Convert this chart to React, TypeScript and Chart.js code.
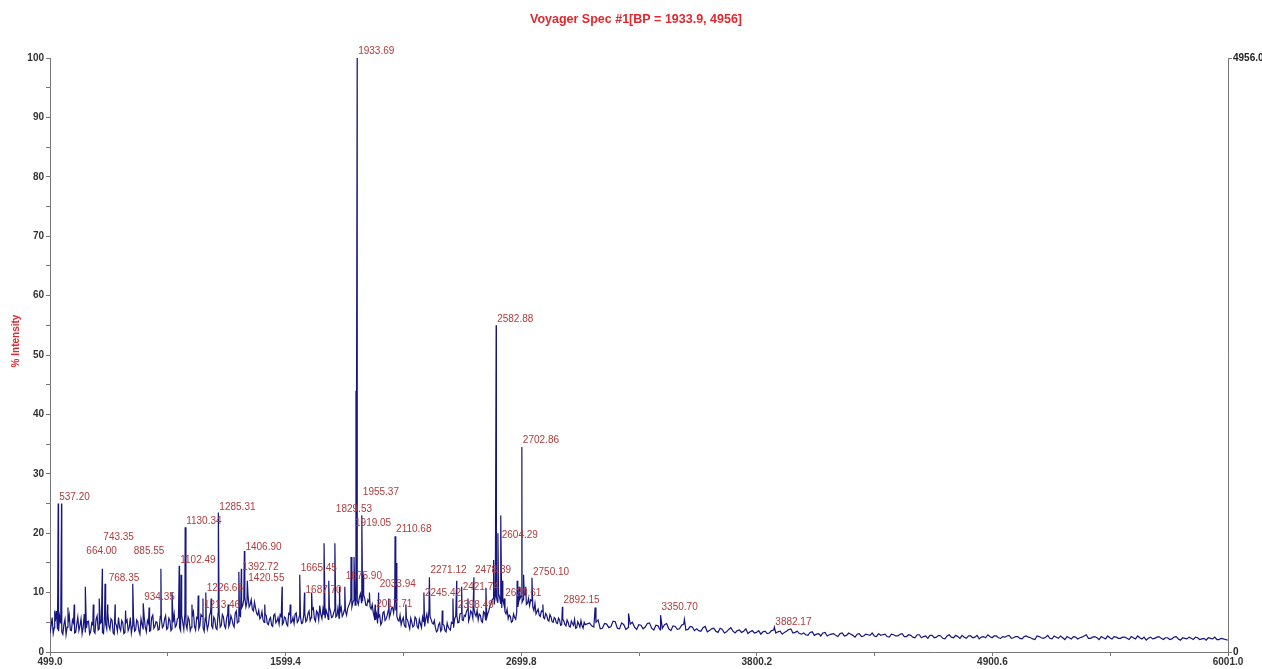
import { useEffect, useRef } from 'react';
import { Chart, registerables } from 'chart.js';

Chart.register(...registerables);

const chartTitle = 'Voyager Spec #1[BP = 1933.9, 4956]';
const yAxisTitle = '% Intensity';
const xMin = 499.0;
const xMax = 6001.0;
const xTickValues = [499.0, 1049.2, 1599.4, 2149.6, 2699.8, 3250.0, 3800.2, 4350.4, 4900.6, 5450.8, 6001.0];
const xTickLabels = ['499.0', '', '1599.4', '', '2699.8', '', '3800.2', '', '4900.6', '', '6001.0'];
const yTickValues = [0, 5, 10, 15, 20, 25, 30, 35, 40, 45, 50, 55, 60, 65, 70, 75, 80, 85, 90, 95, 100];
const yTickLabels = ['0', '', '10', '', '20', '', '30', '', '40', '', '50', '', '60', '', '70', '', '80', '', '90', '', '100'];
const rightTickValues = [0, 100];
const rightTickLabels = ['0', '4956.0'];

// noisy baseline, low-mass region (m/z 499 .. 2999, every 10)
const baselineLowStart = 499;
const baselineLowStep = 10;
const baselineLow = [
  3.2, 5.8, 4.1, 6.9, 3.5, 4.8, 3.0, 5.5, 4.2, 6.2, 3.6, 4.9, 3.3, 5.9, 4.4, 3.1, 6.4, 4.0, 5.2, 3.4,
  4.6, 3.2, 6.1, 3.9, 5.0, 3.1, 4.7, 6.6, 3.8, 5.3, 3.0, 4.5, 5.8, 3.6, 4.9, 3.3, 5.4, 4.1, 3.2, 6.0,
  3.7, 5.1, 3.0, 4.6, 5.9, 3.4, 4.8, 3.6, 6.2, 4.3, 5.0, 3.8, 5.6, 4.4, 6.1, 4.0, 5.3, 3.9, 6.4, 4.5,
  5.8, 3.6, 5.0, 6.5, 3.9, 5.4, 4.2, 6.8, 3.7, 5.6, 4.4, 6.0, 3.5, 5.2, 4.6, 6.7, 4.0, 5.5, 3.8, 6.3,
  4.5, 5.9, 4.0, 6.4, 4.8, 5.5, 4.2, 6.9, 5.1, 6.0, 7.8, 9.2, 8.4, 7.6, 8.8, 6.9, 7.4, 6.2, 5.6, 6.8,
  5.0, 6.1, 4.6, 5.8, 4.3, 6.4, 5.2, 4.7, 6.0, 4.9, 5.7, 4.4, 6.3, 5.1, 4.8, 6.6, 5.3, 5.9, 4.9, 6.5,
  5.4, 6.9, 5.8, 7.4, 5.2, 6.6, 7.8, 5.6, 6.2, 7.0, 5.5, 6.8, 5.9, 7.2, 6.1, 5.7, 7.5, 6.4, 6.9, 7.3,
  8.2, 7.6, 8.8, 9.5, 8.0, 9.8, 8.6, 9.0, 7.8, 8.4, 7.2, 6.6, 5.4, 4.8, 6.2, 5.0, 6.8, 5.6, 7.0, 6.4,
  7.5, 8.2, 6.0, 5.2, 4.6, 5.8, 4.2, 5.4, 3.9, 5.0, 4.4, 5.6, 4.0, 4.8, 5.9, 4.3, 6.4, 7.0, 5.5, 4.7,
  4.1, 3.6, 4.9, 3.8, 4.5, 3.4, 4.2, 3.7, 4.8, 5.6, 6.2, 5.0, 6.5, 5.3, 6.0, 7.2, 5.8, 6.6, 7.4, 6.0,
  5.4, 6.2, 5.0, 6.6, 5.8, 7.0, 8.2, 9.0, 9.6, 8.4, 9.2, 7.4, 8.0, 6.4, 5.6, 6.0, 5.2, 5.8, 6.8, 8.6,
  9.4, 8.8, 9.6, 8.2, 7.8, 8.6, 7.0, 6.4, 7.2, 6.0, 6.8, 5.6, 6.2, 5.2, 5.9, 5.0, 5.6, 4.8, 5.4, 4.6,
  5.2, 4.4, 5.0, 4.2, 4.8, 5.5, 4.1, 4.7, 5.3, 4.0, 4.6,
];
// interleaved baseline readings (m/z 504 .. 2994, every 10)
const baselineLowMidStart = 504;
const baselineLowMid = [
  4.4, 3.1, 5.2, 3.8, 6.0, 3.4, 4.6, 2.9, 5.0, 3.7, 5.4, 3.2, 4.7, 3.6, 5.6, 4.2, 3.3, 5.1, 3.0, 4.9,
  3.5, 5.5, 3.7, 4.8, 3.3, 6.2, 3.9, 4.4, 5.6, 3.2, 4.9, 3.5, 4.1, 5.3, 3.1, 5.0, 3.6, 5.8, 4.4, 3.5,
  5.4, 3.6, 5.6, 3.9, 4.2, 5.3, 3.5, 5.8, 4.0, 5.1, 3.7, 6.0, 4.1, 5.5, 3.8, 5.7, 3.6, 5.0, 4.2, 5.6,
  4.1, 6.2, 3.8, 4.7, 5.9, 3.6, 6.1, 4.3, 5.8, 3.9, 6.3, 4.1, 5.7, 3.8, 6.2, 4.4, 5.9, 4.0, 6.5, 4.2,
  6.3, 4.4, 5.7, 4.3, 6.1, 4.6, 6.5, 4.9, 6.2, 7.4, 8.8, 7.6, 9.4, 8.0, 7.2, 8.4, 6.5, 7.0, 5.9, 5.4,
  6.4, 4.8, 5.5, 4.5, 6.2, 4.9, 5.8, 6.3, 4.6, 5.9, 4.7, 6.5, 4.9, 5.8, 6.4, 5.0, 6.1, 4.8, 6.2, 5.1,
  6.5, 5.3, 7.1, 5.6, 6.9, 5.4, 6.3, 7.3, 5.7, 6.4, 7.6, 5.8, 6.6, 5.9, 7.4, 6.8, 6.0, 7.1, 6.2, 7.8,
  9.0, 8.4, 7.9, 8.6, 9.2, 8.3, 9.6, 7.9, 8.8, 7.6, 8.0, 5.8, 6.4, 5.9, 4.6, 6.6, 5.3, 6.2, 5.8, 7.4,
  6.6, 7.0, 5.4, 6.2, 5.3, 4.5, 5.6, 4.6, 5.7, 4.2, 5.9, 4.3, 5.5, 4.1, 5.1, 5.6, 4.8, 6.0, 4.9, 5.3,
  3.4, 4.6, 3.5, 4.7, 3.6, 4.9, 3.9, 5.0, 4.1, 6.0, 4.9, 6.4, 5.4, 6.2, 6.8, 5.2, 6.9, 5.7, 6.4, 7.0,
  6.4, 5.2, 6.8, 5.4, 6.5, 7.8, 8.8, 8.0, 9.3, 9.8, 8.2, 8.8, 6.8, 7.2, 6.2, 5.0, 6.4, 5.5, 7.6, 9.0,
  8.4, 9.8, 8.0, 9.0, 8.8, 7.6, 8.2, 6.8, 6.2, 6.9, 5.8, 6.5, 5.4, 6.3, 5.1, 5.8, 4.9, 5.7, 4.5, 5.5,
  4.6, 5.4, 4.3, 5.2, 4.5, 4.0, 5.1, 4.2, 4.4, 5.0,
];

// noisy baseline, high-mass region (m/z 3019 .. 5999, every 20)
const baselineHighStart = 3019;
const baselineHighStep = 20;
const baselineHigh = [
  4.9, 4.2, 5.4, 4.0, 4.7, 4.3, 5.1, 3.9, 4.6, 4.1, 5.0, 3.8, 4.5, 4.2, 4.9, 3.7, 4.4, 4.0, 4.8, 3.6, 4.3, 3.9, 4.7, 3.8, 4.2,
  3.9, 3.5, 4.3, 3.6, 4.0, 3.3, 3.8, 3.4, 4.1, 3.2, 3.7, 3.5, 3.1, 3.6, 3.3, 3.0, 3.5, 3.2, 3.7, 3.4, 3.0, 3.5, 3.9, 3.3, 3.1,
  3.2, 2.8, 3.4, 3.0, 2.7, 3.3, 2.9, 3.1, 2.6, 3.2, 2.8, 3.0, 2.5, 3.1, 2.7, 2.9, 3.2, 2.6, 2.8, 3.0, 2.5, 2.9, 2.7, 3.1, 2.6,
  2.8, 2.4, 2.9, 2.6, 2.3, 2.8, 2.5, 2.7, 2.2, 2.9, 2.4, 2.6, 2.8, 2.3, 2.7, 2.5, 2.2, 2.6, 2.9, 2.4, 2.7, 2.3, 2.5, 2.8, 2.4,
  2.6, 2.2, 2.7, 2.4, 2.1, 2.6, 2.3, 2.8, 2.2, 2.5, 2.7, 2.1, 2.4, 2.6, 2.2, 2.5, 2.9, 2.3, 2.6, 2.1, 2.4, 2.7, 2.2, 2.5, 2.3,
  2.5, 2.1, 2.4, 2.7, 2.2, 2.0, 2.5, 2.3, 2.6, 2.1, 2.4, 2.2, 2.6, 2.0, 2.3, 2.5, 2.1, 2.4, 2.2, 2.0, 2.3, 2.5, 2.1, 2.2, 2.0,
];
// interleaved baseline readings (m/z 3029 .. 5989, every 20)
const baselineHighMidStart = 3029;
const baselineHighMid = [
  4.4, 5.0, 3.9, 4.8, 4.1, 5.2, 4.0, 4.9, 3.8, 4.7, 4.2, 4.6, 3.9, 4.8, 4.0, 4.5, 3.7, 4.6, 3.9, 4.4, 3.8, 4.5, 3.7, 4.3, 3.6,
  3.6, 4.1, 3.4, 3.9, 3.5, 4.0, 3.2, 3.8, 3.5, 3.6, 3.3, 3.9, 3.4, 3.2, 3.6, 3.4, 3.1, 3.6, 3.2, 3.5, 3.3, 3.8, 3.2, 3.5, 3.0,
  2.9, 3.3, 2.8, 3.1, 3.2, 2.7, 3.0, 2.8, 3.1, 2.7, 3.2, 2.8, 3.0, 2.6, 3.0, 2.8, 2.7, 3.1, 2.9, 2.6, 3.0, 2.7, 3.0, 2.6, 2.9,
  2.5, 2.9, 2.4, 2.7, 2.8, 2.4, 2.8, 2.3, 2.7, 2.5, 2.8, 2.3, 2.5, 2.7, 2.4, 2.8, 2.5, 2.4, 2.6, 2.7, 2.4, 2.6, 2.7, 2.3, 2.6,
  2.3, 2.6, 2.5, 2.2, 2.7, 2.4, 2.5, 2.3, 2.7, 2.3, 2.4, 2.6, 2.2, 2.5, 2.4, 2.7, 2.3, 2.5, 2.4, 2.6, 2.2, 2.4, 2.6, 2.3, 2.5,
  2.3, 2.6, 2.2, 2.4, 2.5, 2.3, 2.2, 2.5, 2.3, 2.4, 2.1, 2.5, 2.2, 2.4, 2.2, 2.3, 2.5, 2.1, 2.3, 2.4, 2.2, 2.1, 2.3, 2.1,
];

// peak sticks (m/z, % intensity)
const peakMz = [
  521, 537.2, 553, 583, 612, 664.0, 701, 729, 743.35, 756, 768.35, 803, 852, 885.55, 934.35, 962,
  1017, 1069, 1102.49, 1111, 1130.34, 1162, 1191, 1213.46, 1226.65, 1252, 1285.31, 1331, 1381,
  1392.72, 1406.90, 1420.55, 1502, 1583, 1621, 1665.45, 1687.70, 1721, 1779, 1801, 1829.53, 1851,
  1875.90, 1905, 1919.05, 1928, 1933.69, 1955.37, 1962, 1991, 2017.71, 2033.94, 2081, 2110.68, 2118,
  2161, 2245.42, 2271.12, 2331, 2381, 2398.49, 2421.74, 2451, 2478.89, 2535, 2571, 2582.88, 2591,
  2604.29, 2612, 2620.61, 2681, 2691, 2702.86, 2711, 2721, 2750.10, 2801, 2892.15, 3045, 3201,
  3350.70, 3462, 3882.17,
];
const peakIntensity = [
  7, 25, 25, 7.5, 8, 11, 8, 9, 14, 11.5, 8, 8, 7, 11.5, 8.2, 7.5,
  14, 10, 14.5, 13, 21, 8, 9.5, 9, 10, 9, 23.5, 8, 13.5,
  14, 17, 12, 8, 11, 8, 13, 10, 10, 18.3, 12, 18.3, 11,
  11, 16, 16, 44, 100, 23, 13, 10, 8, 10, 9, 19.5, 15,
  8, 10, 12.6, 7, 9, 12, 11, 9, 12.6, 10.8, 15.5, 55, 20,
  23, 12, 9, 12, 11, 34.5, 13, 11, 12.5, 8, 7.6, 7.5, 6.5,
  6.2, 5.5, 4.2,
];

// annotated peaks: m/z text and the % level the annotation sits on
const labelMz = [
  537.20, 664.00, 743.35, 768.35, 885.55, 934.35, 1102.49, 1130.34, 1285.31, 1226.65, 1213.46,
  1406.90, 1392.72, 1420.55, 1665.45, 1687.70, 1829.53, 1919.05, 1933.69, 1955.37, 1875.90,
  2033.94, 2017.71, 2110.68, 2245.42, 2271.12, 2398.49, 2421.74, 2478.89, 2582.88, 2604.29,
  2620.61, 2702.86, 2750.10, 2892.15, 3350.70, 3882.17,
];
const labelLevel = [
  25.4, 16.3, 18.7, 11.8, 16.3, 8.6, 14.8, 21.4, 23.7, 10.1, 7.2,
  17.0, 13.6, 11.8, 13.5, 9.8, 23.4, 21.0, 100.5, 26.3, 12.0,
  10.8, 7.4, 20.0, 9.3, 13.1, 7.2, 10.3, 13.1, 55.4, 19.0,
  9.3, 35.0, 12.8, 8.1, 6.9, 4.4,
];

function buildSpectrum() {
  const pts: { x: number; y: number }[] = [];
  baselineLow.forEach((v, i) => pts.push({ x: baselineLowStart + i * baselineLowStep, y: v }));
  baselineLowMid.forEach((v, i) => pts.push({ x: baselineLowMidStart + i * baselineLowStep, y: v }));
  baselineHigh.forEach((v, i) => pts.push({ x: baselineHighStart + i * baselineHighStep, y: v }));
  baselineHighMid.forEach((v, i) => pts.push({ x: baselineHighMidStart + i * baselineHighStep, y: v }));
  peakMz.forEach((m, i) => pts.push({ x: m, y: peakIntensity[i] }));
  pts.sort((a, b) => a.x - b.x);
  return pts;
}

const overlayPlugin = {
  id: 'specOverlay',
  afterDraw(chart: any) {
    const { ctx, scales } = chart;
    const xs = scales.x;
    const ys = scales.y;
    ctx.save();
    ctx.fillStyle = '#e3262c';
    ctx.font = 'bold 12.5px Arial, "Liberation Sans", sans-serif';
    ctx.textAlign = 'center';
    ctx.textBaseline = 'middle';
    ctx.fillText(chartTitle, 636, 20);
    ctx.save();
    ctx.translate(16, 341);
    ctx.rotate(-Math.PI / 2);
    ctx.font = 'bold 10px Arial, "Liberation Sans", sans-serif';
    ctx.fillText(yAxisTitle, 0, 0);
    ctx.restore();
    ctx.fillStyle = '#b23a3a';
    ctx.font = '10px Arial, "Liberation Sans", sans-serif';
    ctx.textAlign = 'left';
    ctx.textBaseline = 'bottom';
    labelMz.forEach((m, i) => {
      const px = xs.getPixelForValue(m);
      const py = ys.getPixelForValue(labelLevel[i]);
      ctx.fillText(m.toFixed(2), px + 1, py + 1);
    });
    ctx.restore();
  },
};

export default function App() {
  const ref = useRef<HTMLCanvasElement | null>(null);
  useEffect(() => {
    if (!ref.current) return;
    const tickFont = { family: 'Arial, "Liberation Sans", sans-serif', size: 10, weight: 'bold' as const };
    const chart = new Chart(ref.current, {
      type: 'line',
      data: {
        datasets: [
          {
            data: buildSpectrum(),
            borderColor: '#16167e',
            borderWidth: 1.2,
            pointRadius: 0,
            tension: 0,
            fill: false,
          },
        ],
      },
      options: {
        animation: false,
        responsive: false,
        maintainAspectRatio: false,
        layout: { padding: { top: 58, left: 0, right: 0, bottom: 0 } },
        plugins: { legend: { display: false }, tooltip: { enabled: false }, title: { display: false } },
        scales: {
          x: {
            type: 'linear',
            min: xMin,
            max: xMax,
            afterBuildTicks: (s: any) => {
              s.ticks = xTickValues.map((v) => ({ value: v }));
            },
            afterFit: (s: any) => {
              s.height = 17;
            },
            ticks: {
              autoSkip: false,
              maxRotation: 0,
              padding: 0,
              color: '#333',
              font: tickFont,
              callback: (_v: any, i: number) => xTickLabels[i],
            },
            grid: { drawOnChartArea: false, drawTicks: true, tickLength: 4, color: '#777' },
            border: { display: true, color: '#777', width: 1 },
          },
          y: {
            type: 'linear',
            position: 'left',
            min: 0,
            max: 100,
            afterBuildTicks: (s: any) => {
              s.ticks = yTickValues.map((v) => ({ value: v }));
            },
            afterFit: (s: any) => {
              s.width = 50;
            },
            ticks: {
              autoSkip: false,
              padding: 2,
              color: '#333',
              font: tickFont,
              callback: (_v: any, i: number) => yTickLabels[i],
            },
            grid: { drawOnChartArea: false, drawTicks: true, tickLength: 4, color: '#777' },
            border: { display: true, color: '#777', width: 1 },
          },
          y2: {
            type: 'linear',
            position: 'right',
            min: 0,
            max: 100,
            afterBuildTicks: (s: any) => {
              s.ticks = rightTickValues.map((v) => ({ value: v }));
            },
            afterFit: (s: any) => {
              s.width = 34;
            },
            ticks: {
              autoSkip: false,
              padding: 1,
              color: '#222',
              font: tickFont,
              callback: (_v: any, i: number) => rightTickLabels[i],
            },
            grid: { drawOnChartArea: false, drawTicks: true, tickLength: 4, color: '#777' },
            border: { display: true, color: '#777', width: 1 },
          },
        },
      },
      plugins: [overlayPlugin],
    } as any);
    return () => chart.destroy();
  }, []);
  return (
    <div style={{ position: 'fixed', left: 0, top: 0, width: 1262, height: 669, background: '#fff' }}>
      <canvas ref={ref} width={1262} height={669} style={{ width: 1262, height: 669 }} />
    </div>
  );
}
